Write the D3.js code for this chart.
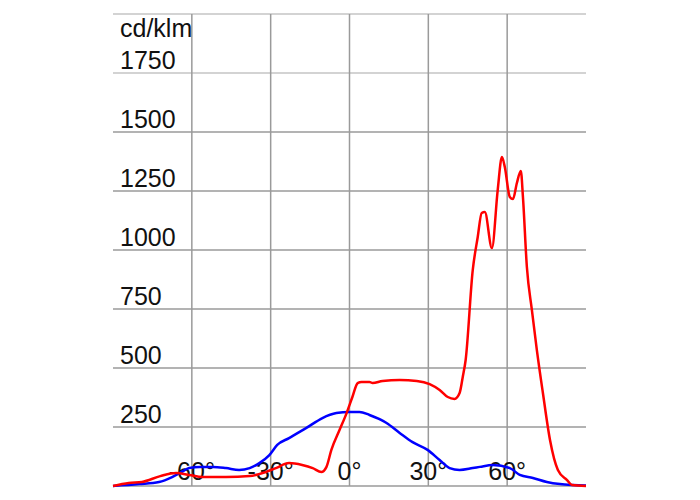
<!DOCTYPE html>
<html><head><meta charset="utf-8">
<script src="https://cdn.jsdelivr.net/npm/d3@7"></script>
<style>body{margin:0;background:#fff}svg{display:block}text{font-family:"Liberation Sans",Arial,sans-serif;fill:#111}</style>
</head><body>
<svg id="c" width="700" height="500"></svg>
<script>
const unitLabel = "cd/klm";
const yTicks = [250, 500, 750, 1000, 1250, 1500, 1750];
const yGrid = [0, 250, 500, 750, 1000, 1250, 1500, 1750, 2000];
const xTicks = [-60, -30, 0, 30, 60];
const xTickLabels = ["-60°", "-30°", "0°", "30°", "60°"];

const redAngles = [-90,-84,-79,-72,-66,-61,-56,-47,-38,-32,-28,-23,-18,-14,-10.7,-8.8,-6.9,-3.8,-1.1,1.1,3.1,4.6,7.6,8.8,12.6,19.1,25.6,30.5,34.3,37.4,40,41.9,43.1,44.2,46.9,48.8,50.3,51.5,54.2,56.4,58,59.1,61,62.2,63.7,65.2,66,67.5,69.4,71.3,73.6,76.3,79.3,82.8,84.7,90];
const redValues = [0,13,17,42,55,47,38,38,42,59,76,97,89,76,59,80,153,237,309,377,436,441,441,436,445,449,445,432,407,377,369,394,462,534,915,1055,1157,1161,1008,1254,1394,1352,1225,1216,1284,1335,1225,928,746,576,394,195,68,25,4,0];

const blueAngles = [-90,-80,-72.5,-67.5,-64,-61,-57,-52,-47,-42,-38,-34.3,-30.5,-27.5,-23,-16.4,-10.3,-5,0,3.8,7.6,14.1,19.1,24,29.7,34.3,38.1,41.9,46.9,49.6,54.5,61,64.8,69.8,75.1,80.1,85,90];
const blueValues = [0,8,17,38,59,76,81,81,76,68,76,97,131,174,203,246,288,309,314,314,301,267,225,186,153,110,76,68,76,81,89,76,47,34,17,8,4,2];

const svg = d3.select("#c");
const x = d3.scaleLinear().domain([-90, 90]).range([113, 586]);
const y = d3.scaleLinear().domain([0, 2000]).range([486, 14]);

// horizontal grid
svg.append("g").selectAll("line").data(yGrid).join("line")
  .attr("x1", x(-90)).attr("x2", x(90))
  .attr("y1", d => y(d)).attr("y2", d => y(d))
  .attr("stroke", d => d >= 1750 ? "#c4c4c4" : "#9a9a9a").attr("stroke-width", 1.5);
// vertical grid
svg.append("g").selectAll("line").data(xTicks).join("line")
  .attr("x1", d => x(d)).attr("x2", d => x(d))
  .attr("y1", y(2000)).attr("y2", y(0))
  .attr("stroke", "#9a9a9a").attr("stroke-width", 1.5);

// y labels
svg.append("text").attr("x", 120).attr("y", 37).attr("font-size", 25).text(unitLabel);
svg.append("g").selectAll("text").data(yTicks).join("text")
  .attr("x", 120).attr("y", d => y(d) - 4).attr("font-size", 25).text(d => d);
// x labels
svg.append("g").selectAll("text").data(xTicks).join("text")
  .attr("x", d => x(d)).attr("y", 480).attr("font-size", 25)
  .attr("text-anchor", "middle").text((d, i) => xTickLabels[i]);

const line = d3.line().x(d => x(d[0])).y(d => y(d[1])).curve(d3.curveMonotoneX);
svg.append("path").datum(blueAngles.map((a, i) => [a, blueValues[i]]))
  .attr("d", line).attr("fill", "none").attr("stroke", "#0000ff").attr("stroke-width", 2.5);
svg.append("path").datum(redAngles.map((a, i) => [a, redValues[i]]))
  .attr("d", line).attr("fill", "none").attr("stroke", "#ff0000").attr("stroke-width", 2.5);
</script>
</body></html>
